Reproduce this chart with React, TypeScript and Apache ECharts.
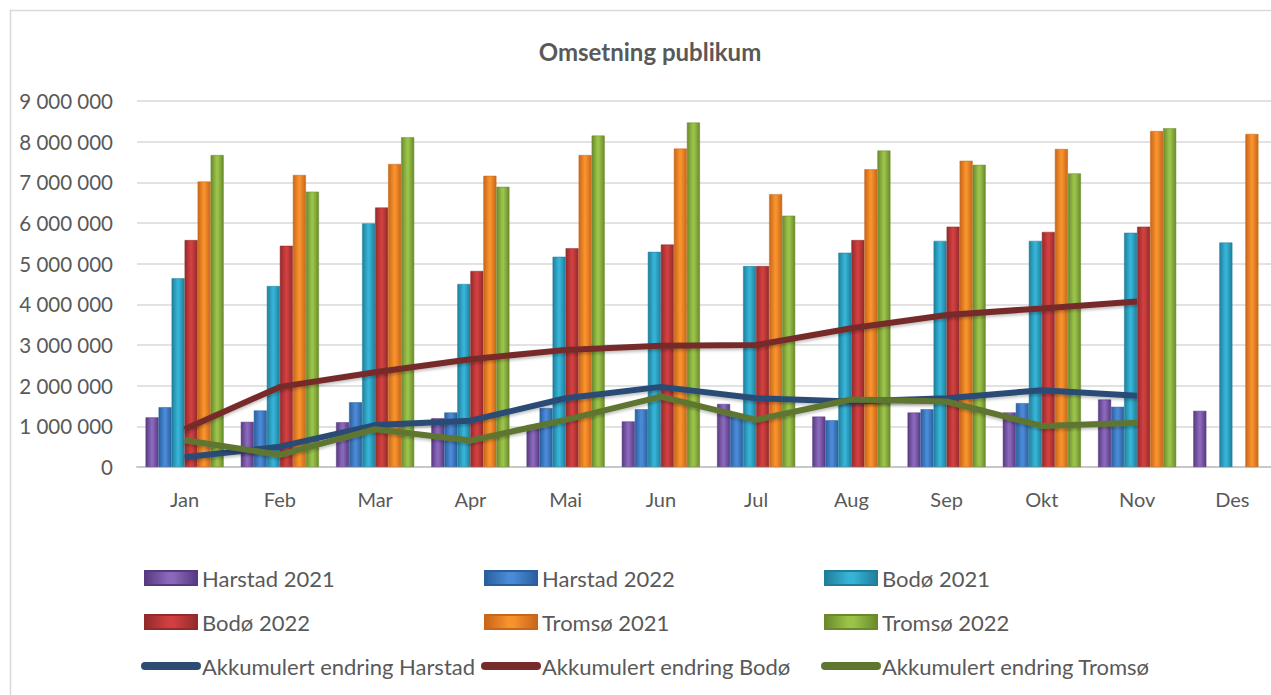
import React, { useEffect, useRef } from "react";
import * as echarts from "echarts";

const months = ["Jan", "Feb", "Mar", "Apr", "Mai", "Jun", "Jul", "Aug", "Sep", "Okt", "Nov", "Des"];

const harstad2021 = [1220000, 1110000, 1100000, 1200000, 1030000, 1120000, 1550000, 1240000, 1340000, 1340000, 1660000, 1380000];
const harstad2022 = [1470000, 1390000, 1590000, 1340000, 1450000, 1420000, 1240000, 1150000, 1420000, 1570000, 1480000, null];
const bodo2021 = [4640000, 4450000, 5990000, 4500000, 5170000, 5290000, 4940000, 5270000, 5560000, 5560000, 5760000, 5520000];
const bodo2022 = [5580000, 5440000, 6380000, 4820000, 5380000, 5470000, 4940000, 5580000, 5910000, 5780000, 5910000, null];
const tromso2021 = [7020000, 7180000, 7450000, 7160000, 7670000, 7830000, 6710000, 7320000, 7530000, 7820000, 8260000, 8190000];
const tromso2022 = [7670000, 6770000, 8110000, 6890000, 8150000, 8470000, 6180000, 7780000, 7430000, 7220000, 8330000, null];

const akkHarstad = [240000, 500000, 1030000, 1140000, 1690000, 1970000, 1690000, 1610000, 1690000, 1890000, 1750000, null];
const akkBodo = [930000, 1970000, 2330000, 2650000, 2880000, 2980000, 3000000, 3410000, 3740000, 3900000, 4070000, null];
const akkTromso = [660000, 300000, 930000, 650000, 1160000, 1730000, 1160000, 1660000, 1610000, 1010000, 1090000, null];

const FONT = "Lato";
const TXT = "#595959";

function barGrad(edge: string, mid: string) {
  return new echarts.graphic.LinearGradient(0, 0, 1, 0, [
    { offset: 0, color: edge },
    { offset: 0.45, color: mid },
    { offset: 0.55, color: mid },
    { offset: 1, color: edge },
  ]);
}

export default function App() {
  const ref = useRef<HTMLDivElement>(null);

  useEffect(() => {
    if (!ref.current) return;
    const chart = echarts.init(ref.current, undefined, { renderer: "svg" });

    const barDefs = [
      { name: "Harstad 2021", data: harstad2021, edge: "#573a80", mid: "#8b68bb" },
      { name: "Harstad 2022", data: harstad2022, edge: "#2a5f9e", mid: "#4a8ad6" },
      { name: "Bodø 2021", data: bodo2021, edge: "#1f7f9b", mid: "#36b3d6" },
      { name: "Bodø 2022", data: bodo2022, edge: "#922b2c", mid: "#d23f40" },
      { name: "Tromsø 2021", data: tromso2021, edge: "#c8661a", mid: "#f7922c" },
      { name: "Tromsø 2022", data: tromso2022, edge: "#6a8a2c", mid: "#9bc34a" },
    ];

    const lineDefs = [
      { name: "Akkumulert endring Harstad", data: akkHarstad, color: "#2c4c74" },
      { name: "Akkumulert endring Bodø", data: akkBodo, color: "#772c2b" },
      { name: "Akkumulert endring Tromsø", data: akkTromso, color: "#5f7630" },
    ];

    const series: any[] = [
      ...barDefs.map((b) => ({
        name: b.name,
        type: "bar",
        data: b.data,
        barGap: "0%",
        barCategoryGap: "18%",
        itemStyle: { color: barGrad(b.edge, b.mid), borderColor: b.edge, borderWidth: 0.5 },
      })),
      ...lineDefs.map((l) => ({
        name: l.name,
        type: "line",
        data: l.data,
        symbol: "none",
        z: 5,
        lineStyle: { color: l.color, width: 6, shadowColor: "rgba(0,0,0,0.25)", shadowBlur: 3, shadowOffsetY: 2 },
        itemStyle: { color: l.color },
      })),
    ];

    const legendBase = {
      orient: "vertical",
      top: 566,
      padding: 0,
      itemWidth: 52,
      itemHeight: 14,
      itemGap: 20,
      textStyle: { fontFamily: FONT, fontSize: 22, color: TXT, lineHeight: 24 },
      lineStyle: { width: 8, cap: "round" },
    };

    const barIcon = (name: string) => {
      const b = barDefs.find((x) => x.name === name)!;
      return { name, icon: "rect", itemStyle: { color: barGrad(b.edge, b.mid) } };
    };
    const lineIcon = (name: string) => ({
      name,
      itemStyle: { color: "rgba(0,0,0,0)", borderColor: "rgba(0,0,0,0)", borderWidth: 0 },
    });

    const option: any = {
      animation: false,
      backgroundColor: "#ffffff",
      title: {
        text: "Omsetning publikum",
        left: 645,
        textAlign: "center",
        top: 34,
        textStyle: { fontFamily: FONT, fontSize: 24, fontWeight: "bold", color: TXT },
      },
      grid: { left: 137, right: 10, top: 101, bottom: 228 },
      xAxis: {
        type: "category",
        data: months,
        axisTick: { show: false },
        axisLine: { lineStyle: { color: "#c8c8c8", width: 2 } },
        axisLabel: { fontFamily: FONT, fontSize: 20, color: TXT, margin: 22 },
      },
      yAxis: {
        type: "value",
        min: 0,
        max: 9000000,
        interval: 1000000,
        axisLine: { show: false },
        axisTick: { show: false },
        splitLine: { lineStyle: { color: "#d9d9d9", width: 1.5 } },
        axisLabel: {
          fontFamily: FONT,
          fontSize: 20.5,
          color: TXT,
          margin: 24,
          formatter: (v: number) => String(v).replace(/\B(?=(\d{3})+(?!\d))/g, " "),
        },
      },
      legend: [
        { ...legendBase, left: 141, data: [barIcon("Harstad 2021"), barIcon("Bodø 2022"), lineIcon("Akkumulert endring Harstad")] },
        { ...legendBase, left: 481, data: [barIcon("Harstad 2022"), barIcon("Tromsø 2021"), lineIcon("Akkumulert endring Bodø")] },
        { ...legendBase, left: 821, data: [barIcon("Bodø 2021"), barIcon("Tromsø 2022"), lineIcon("Akkumulert endring Tromsø")] },
      ],
      graphic: [
        {
          type: "rect",
          silent: true,
          z: -10,
          shape: { x: 10.5, y: 10.5, width: 1400, height: 800 },
          style: { fill: "none", stroke: "#d9d9d9", lineWidth: 1.5 },
        },
      ],
      series,
    };

    chart.setOption(option);
    return () => chart.dispose();
  }, []);

  return (
    <div style={{ position: "fixed", left: 0, top: 0, width: 1271, height: 695, overflow: "hidden", background: "#fff" }}>
      <div ref={ref} style={{ width: 1290, height: 695 }} />
    </div>
  );
}
